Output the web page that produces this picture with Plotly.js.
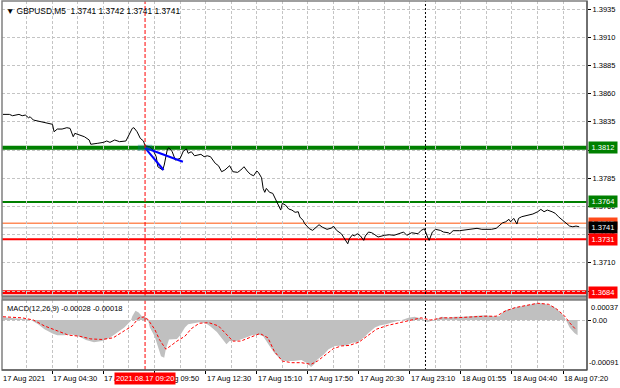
<!DOCTYPE html>
<html><head><meta charset="utf-8">
<script src="https://cdn.plot.ly/plotly-3.0.1.min.js"></script>
<style>html,body{margin:0;padding:0;background:#fff}#c{width:620px;height:388px}</style>
</head><body><div id="c"></div>
<script>
// ---- price series (bar index, close) ----
const priceBars = [0,4,6,10,12,14,16,17,19,22,25,28,31,32,34,37,40,42,44,45,48,51,54,55,59,63,65,67,70,73,77,79,81,82,84,86,88,89,92,94,96,97,100,101,102,103,104,106,108,111,113,115,116,118,120,124,126,128,130,133,135,137,139,141,142,144,147,149,151,153,155,157,159,160,162,163,164,165,167,169,171,173,174,175,177,179,181,183,185,186,188,189,192,194,196,198,200,203,206,207,209,212,216,217,219,220,222,224,226,227,229,231,233,235,239,242,245,248,251,253,256,260,262,264,265,266,267,269,271,274,276,279,280,282,286,289,292,295,297,300,303,306,309,311,313,315,317,318,320,322,323,325,329,332,335,337,339,341,344,346,348,350,352,354,355,357,359,361];
const priceVals = [1.38416,1.38416,1.38404,1.38416,1.38404,1.38410,1.38386,1.38395,1.38366,1.38357,1.38346,1.38337,1.38328,1.38262,1.38286,1.38286,1.38298,1.38292,1.38218,1.38248,1.38233,1.38218,1.38189,1.38151,1.38159,1.38168,1.38180,1.38168,1.38189,1.38174,1.38180,1.38233,1.38292,1.38298,1.38262,1.38204,1.38180,1.38138,1.38129,1.38100,1.38041,1.37952,1.37923,1.37967,1.38056,1.38109,1.38120,1.38085,1.38011,1.38026,1.38091,1.38109,1.38071,1.38085,1.38049,1.38062,1.38041,1.38049,1.38041,1.37982,1.37961,1.37908,1.37923,1.37943,1.37961,1.37908,1.37902,1.37923,1.37952,1.37914,1.37885,1.37872,1.37914,1.37902,1.37854,1.37760,1.37725,1.37760,1.37725,1.37716,1.37657,1.37612,1.37568,1.37627,1.37612,1.37577,1.37568,1.37548,1.37553,1.37506,1.37477,1.37447,1.37402,1.37388,1.37417,1.37438,1.37417,1.37397,1.37409,1.37426,1.37388,1.37358,1.37269,1.37314,1.37349,1.37338,1.37358,1.37338,1.37299,1.37338,1.37373,1.37367,1.37349,1.37329,1.37344,1.37349,1.37344,1.37358,1.37373,1.37344,1.37367,1.37358,1.37388,1.37402,1.37358,1.37329,1.37299,1.37373,1.37397,1.37388,1.37373,1.37367,1.37358,1.37385,1.37385,1.37391,1.37397,1.37397,1.37406,1.37397,1.37397,1.37397,1.37406,1.37435,1.37455,1.37464,1.37486,1.37464,1.37494,1.37444,1.37494,1.37509,1.37524,1.37533,1.37553,1.37574,1.37553,1.37568,1.37553,1.37539,1.37509,1.37486,1.37464,1.37444,1.37426,1.37420,1.37426,1.37420];

// ---- MACD histogram and signal ----
const histBars = [0,17,22,26,31,34,38,43,48,52,57,62,67,71,76,80,81,83,85,87,89,91,92,95,97,99,101,102,104,107,109,111,114,116,120,123,127,130,134,137,140,142,146,149,153,156,160,163,167,170,174,177,182,187,190,193,195,197,201,204,208,212,215,219,222,226,229,233,236,240,243,247,250,254,258,261,263,266,268,272,275,279,283,288,293,298,302,307,311,314,318,321,326,331,334,338,341,345,348,351,353,355,358,360];
const histVals = [0.00005,0.00001,-0.00008,-0.00017,-0.00025,-0.00028,-0.00028,-0.00027,-0.00031,-0.00037,-0.00041,-0.00039,-0.00033,-0.00024,-0.00014,-0.00002,0.00007,0.00017,0.00014,0.00007,0.00006,-0.00002,-0.00014,-0.0003,-0.00048,-0.00067,-0.0007,-0.00054,-0.00036,-0.00035,-0.00035,-0.00028,-0.00014,-0.00008,-0.00005,-0.00004,-0.00006,-0.00012,-0.00022,-0.00033,-0.00045,-0.00039,-0.00039,-0.00036,-0.00031,-0.00028,-0.00027,-0.0003,-0.00048,-0.00061,-0.00073,-0.00076,-0.00076,-0.00074,-0.00079,-0.00087,-0.00082,-0.00073,-0.00064,-0.00054,-0.00048,-0.00047,-0.00047,-0.00042,-0.00041,-0.00033,-0.00024,-0.00014,-0.0001,-0.00008,-0.00005,-0.00002,0,0.00004,0.00006,0.00004,0.00002,-0.00004,-0.00002,0.00002,0.00006,0.00004,0.00006,0.00006,0.00007,0.00007,0.00009,0.00007,0.00007,0.00017,0.00021,0.00023,0.00026,0.00029,0.00031,0.00031,0.00029,0.00025,0.00017,0.00009,-0.00002,-0.00014,-0.00024,-0.00028];
const sigBars = [0,12,19,26,34,41,48,55,62,69,76,81,85,89,91,95,98,102,105,109,114,118,123,129,135,140,144,149,154,161,166,170,175,181,187,193,197,202,207,212,217,223,228,234,241,248,255,262,268,275,283,293,302,309,315,321,328,335,342,347,352,355,359];
const sigVals = [0.00006,0.00004,0,-0.00011,-0.0002,-0.00028,-0.0003,-0.00035,-0.00036,-0.00033,-0.0002,-0.00011,0.00004,0.00006,0,-0.00017,-0.00036,-0.00054,-0.00048,-0.00039,-0.0003,-0.00016,-0.00006,-0.00005,-0.00011,-0.00027,-0.00039,-0.00039,-0.00033,-0.00025,-0.00033,-0.00058,-0.00076,-0.00079,-0.00079,-0.00082,-0.00076,-0.00064,-0.00053,-0.00048,-0.00047,-0.00041,-0.0003,-0.00017,-0.0001,-0.00005,0,0.00004,0,0.00004,0.00004,0.00006,0.00007,0.00007,0.00017,0.00023,0.00027,0.00031,0.00029,0.0002,0.00007,-0.00005,-0.00018];

// ---- levels and markers ----
const levelVals = [1.3812, 1.3764, 1.3745, 1.3731, 1.3684];
const currentPrice = 1.3741;
const entryBar = 89, entryPrice = 1.3812;
const arrowEndBars = [112.7, 100.6];
const arrowEndPrices = [1.37996, 1.37923];
const daySepBar = 264.7;

// ---- axis labels ----
const priceTicks = [1.3685,1.3710,1.3735,1.3760,1.3785,1.3810,1.3835,1.3860,1.3885,1.3910,1.3935];
const priceTickText = ['1.3685','1.3710','1.3735','1.3760','1.3785','1.3810','1.3835','1.3860','1.3885','1.3910','1.3935'];
const timeBars = [-0.6,30.9,62.9,94.9,126.9,158.9,190.9,222.9,254.9,286.9,318.9,350.9];
const timeLabels = ['17 Aug 2021','17 Aug 04:30','17 Aug 07:10','17 Aug 09:50','17 Aug 12:30','17 Aug 15:10','17 Aug 17:50','17 Aug 20:30','17 Aug 23:10','18 Aug 01:55','18 Aug 04:40','18 Aug 07:20'];
const macdMax = 0.00037, macdMin = -0.00091;
const headerText = '▼ GBPUSD,M5  1.3741 1.3742 1.3741 1.3741';
const macdText = 'MACD(12,26,9) -0.00028 -0.00018';
const cursorLabel = '2021.08.17 09:20';

// ---- styles ----
const FONT = 'Liberation Sans, Arial, sans-serif';
const FS = 7.5;
const levelColors = ['#008000','#008000','#FF8C5A','#FF0000','#FF0000'];
const levelWidths = [4,2,1.5,2,4];
const levelBoxColors = ['#008000','#008000','#FF4A1A','#FF0000','#FF0000'];
const gridColor = '#c4c4c4';
const MAIN_DOM = [0.2005, 1], MACD_DOM = [0, 0.1897];

const traces = [
  {x: histBars, y: histVals, xaxis:'x', yaxis:'y2', type:'scatter', mode:'lines', fill:'tozeroy',
   fillcolor:'#C0C0C0', line:{width:0, color:'#C0C0C0'}, hoverinfo:'skip'},
  {x: sigBars, y: sigVals, xaxis:'x', yaxis:'y2', type:'scatter', mode:'lines',
   line:{width:1, color:'#FF0000', dash:'3px,2px'}, hoverinfo:'skip'},
  {x: priceBars, y: priceVals, xaxis:'x', yaxis:'y', type:'scatter', mode:'lines',
   line:{width:1, color:'#000000'}, hoverinfo:'skip'},
  {x: [entryBar, arrowEndBars[0]], y: [entryPrice, arrowEndPrices[0]], xaxis:'x', yaxis:'y', mode:'lines',
   line:{width:2, color:'#0000FF'}, hoverinfo:'skip'},
  {x: [entryBar, arrowEndBars[1]], y: [entryPrice, arrowEndPrices[1]], xaxis:'x', yaxis:'y', mode:'lines',
   line:{width:2, color:'#0000FF'}, hoverinfo:'skip'}
];

const shapes = [];
shapes.push({type:'line', xref:'paper', x0:0, x1:1, yref:'y', y0:currentPrice, y1:currentPrice,
  line:{color:'#C0C0C0', width:1}, layer:'between'});
levelVals.forEach((v,i)=>{
  shapes.push({type:'line', xref:'paper', x0:0, x1:1, yref:'y', y0:v, y1:v,
    line:{color:levelColors[i], width:levelWidths[i]}, layer:'between'});
});
shapes.push({type:'rect', xref:'x', x0:entryBar-4.5, x1:entryBar+4.5, yref:'y', y0:entryPrice-0.00027, y1:entryPrice+0.00027,
  fillcolor:'rgba(0,128,128,0.35)', line:{width:0}, layer:'above'});
shapes.push({type:'line', xref:'x', x0:entryBar, x1:entryBar, yref:'paper', y0:0, y1:1,
  line:{color:'#FF0000', width:1, dash:'4px,2px'}});
shapes.push({type:'line', xref:'x', x0:daySepBar, x1:daySepBar, yref:'paper', y0:0, y1:1,
  line:{color:'#000000', width:1, dash:'2px,2px'}});
shapes.push({type:'rect', xref:'paper', x0:0, x1:1, yref:'paper', y0:MAIN_DOM[0], y1:MAIN_DOM[1],
  line:{color:'#808080', width:1.5}});
shapes.push({type:'rect', xref:'paper', x0:0, x1:1, yref:'paper', y0:MACD_DOM[1]+0.002, y1:MAIN_DOM[0]-0.002,
  fillcolor:'#b0b0b0', line:{color:'#707070', width:1}});
shapes.push({type:'rect', xref:'paper', x0:0, x1:1, yref:'paper', y0:MACD_DOM[0], y1:MACD_DOM[1],
  line:{color:'#808080', width:1.5}});
shapes.push({type:'line', xref:'paper', x0:1, x1:1, yref:'paper', y0:0, y1:1,
  line:{color:'#404040', width:1}});
shapes.push({type:'line', xref:'paper', x0:0, x1:1, yref:'paper', y0:0, y1:0,
  line:{color:'#404040', width:1}});

const annotations = [];
annotations.push({xref:'paper', yref:'paper', x:0, y:1, xanchor:'left', yanchor:'top', xshift:2, yshift:-3,
  text:headerText, showarrow:false, font:{family:FONT, size:8.4, color:'#000'}});
annotations.push({xref:'paper', yref:'paper', x:0, y:MACD_DOM[1], xanchor:'left', yanchor:'top', xshift:3, yshift:-2,
  text:macdText, showarrow:false, font:{family:FONT, size:FS, color:'#000'}});
timeBars.forEach((b,i)=>{
  annotations.push({xref:'x', yref:'paper', x:b, y:0, xanchor:'left', yanchor:'top', yshift:-2, xshift:-1,
    text:timeLabels[i], showarrow:false, font:{family:FONT, size:FS, color:'#000'}});
});
annotations.push({xref:'x', yref:'paper', x:entryBar, y:0, xanchor:'center', yanchor:'top', yshift:-2,
  text:cursorLabel, showarrow:false, bgcolor:'#FF0000', borderpad:1, font:{family:FONT, size:FS, color:'#fff'}});
annotations.push({xref:'paper', yref:'y2', x:1, y:macdMax, xanchor:'left', yanchor:'top', xshift:2, yshift:-1,
  text:macdMax.toFixed(5), showarrow:false, font:{family:FONT, size:FS, color:'#000'}});
annotations.push({xref:'paper', yref:'y2', x:1, y:-0.000925, xanchor:'left', yanchor:'bottom', xshift:0, yshift:1,
  text:macdMin.toFixed(5), showarrow:false, font:{family:FONT, size:FS, color:'#000'}});
levelVals.forEach((v,i)=>{
  if (i === 2) annotations.push({xref:'paper', yref:'y', x:1, y:v, xanchor:'left', yanchor:'middle', xshift:1,
    text:v.toFixed(4), showarrow:false, bgcolor:levelBoxColors[i], borderpad:1, width:26,
    font:{family:FONT, size:FS, color:'#fff'}});
});
annotations.push({xref:'paper', yref:'y', x:1, y:currentPrice, xanchor:'left', yanchor:'middle', xshift:1,
  text:currentPrice.toFixed(4), showarrow:false, bgcolor:'#000000', borderpad:1, width:26,
  font:{family:FONT, size:FS, color:'#fff'}});
levelVals.forEach((v,i)=>{
  if (i !== 2) annotations.push({xref:'paper', yref:'y', x:1, y:v, xanchor:'left', yanchor:'middle', xshift:1,
    text:v.toFixed(4), showarrow:false, bgcolor:levelBoxColors[i], borderpad:1, width:26,
    font:{family:FONT, size:FS, color:'#fff'}});
});

const layout = {
  width:620, height:388,
  margin:{l:2, r:33, t:1, b:18},
  paper_bgcolor:'#fff', plot_bgcolor:'#fff',
  showlegend:false, hovermode:false,
  font:{family:FONT, size:FS, color:'#000'},
  xaxis:{anchor:'y2', range:[-0.63, 365.9], tickmode:'array', tickvals:timeBars.slice(1), ticktext:timeBars.slice(1).map(()=>''),
    ticks:'outside', ticklen:3, tickcolor:'#000', showticklabels:false,
    showgrid:true, gridcolor:gridColor, griddash:'3px,2px', gridwidth:1, zeroline:false, showline:false,
    minor:{tick0:-1.1, dtick:16, showgrid:true, gridcolor:gridColor, griddash:'3px,2px', ticks:''}},
  yaxis:{domain:MAIN_DOM, range:[1.36806, 1.39421], side:'right', tickmode:'array', tickvals:priceTicks, ticktext:priceTickText,
    ticks:'outside', ticklen:3, tickcolor:'#000', tickfont:{family:FONT, size:FS, color:'#000'},
    showgrid:true, gridcolor:gridColor, griddash:'3px,2px', zeroline:false, showline:false},
  yaxis2:{domain:MACD_DOM, range:[-0.000925, 0.00037], side:'right', tickmode:'array', tickvals:[0], ticktext:['0.00'],
    ticks:'outside', ticklen:3, tickcolor:'#000', tickfont:{family:FONT, size:FS, color:'#000'},
    showgrid:true, gridcolor:gridColor, griddash:'3px,2px', zeroline:false, showline:false},
  shapes:shapes, annotations:annotations
};
Plotly.newPlot('c', traces, layout, {displayModeBar:false, staticPlot:true});
</script></body></html>
